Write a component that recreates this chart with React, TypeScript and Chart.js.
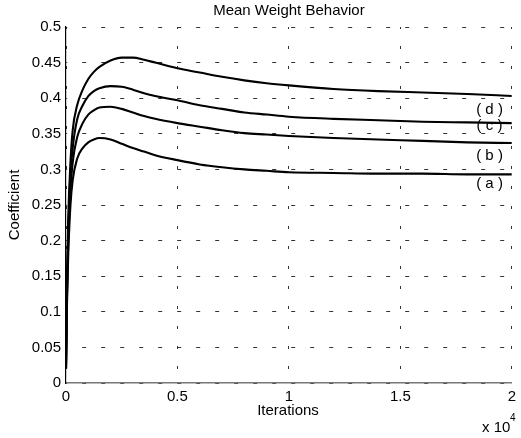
import React, { useEffect, useRef } from "react";
import { Chart, registerables } from "chart.js";

Chart.register(...registerables);

const iterations = [0, 50, 100, 200, 300, 500, 750, 1000, 1250, 1500, 2000, 2500, 3000, 3500, 4000, 5000, 6000, 7000, 8000, 9000, 10000, 12000, 14000, 16000, 18000, 20000];

const curveA = [0.02, 0.12, 0.18, 0.25, 0.285, 0.315, 0.33, 0.338, 0.342, 0.344, 0.342, 0.336, 0.33, 0.325, 0.32, 0.313, 0.307, 0.303, 0.3, 0.298, 0.296, 0.295, 0.294, 0.294, 0.293, 0.293];
const curveB = [0.02, 0.13, 0.2, 0.27, 0.31, 0.345, 0.365, 0.377, 0.383, 0.387, 0.388, 0.385, 0.38, 0.375, 0.371, 0.365, 0.36, 0.355, 0.351, 0.349, 0.347, 0.344, 0.342, 0.34, 0.338, 0.337];
const curveC = [0.02, 0.14, 0.21, 0.29, 0.33, 0.37, 0.39, 0.403, 0.41, 0.414, 0.417, 0.416, 0.412, 0.407, 0.403, 0.397, 0.39, 0.385, 0.38, 0.377, 0.374, 0.371, 0.369, 0.367, 0.366, 0.365];
const curveD = [0.02, 0.15, 0.23, 0.31, 0.355, 0.39, 0.412, 0.427, 0.437, 0.444, 0.453, 0.457, 0.457, 0.454, 0.45, 0.442, 0.436, 0.43, 0.425, 0.421, 0.418, 0.413, 0.41, 0.408, 0.406, 0.403];

const curveLabels = ["( a )", "( b )", "( c )", "( d )"];
const labelX = 19000;
const labelY = [0.279, 0.319, 0.361, 0.383];

const xTicks = [0, 5000, 10000, 15000, 20000];
const FONT = "'Liberation Sans', Arial, Helvetica, sans-serif";

const toPts = (ys: number[]) => ys.map((y, i) => ({ x: iterations[i], y }));

export default function App() {
  const ref = useRef<HTMLCanvasElement | null>(null);
  useEffect(() => {
    if (!ref.current) return;
    const curves = [curveA, curveB, curveC, curveD];
    const datasets: any[] = [];
    curves.forEach((c) => {
      datasets.push({
        data: toPts(c),
        borderColor: "#000",
        borderWidth: 2.1,
        pointRadius: 0,
        cubicInterpolationMode: "monotone",
        fill: false,
      });
      datasets.push({
        data: toPts(c),
        borderColor: "#bdbdbd",
        borderWidth: 0.7,
        pointRadius: 0,
        cubicInterpolationMode: "monotone",
        fill: false,
      });
    });

    const textPlugin = {
      id: "texts",
      afterDraw(chart: any) {
        const ctx = chart.ctx;
        const { chartArea, scales } = chart;
        ctx.save();
        ctx.fillStyle = "#000";
        ctx.font = `15px ${FONT}`;
        ctx.textAlign = "center";
        ctx.textBaseline = "middle";
        ctx.fillText("Mean Weight Behavior", (chartArea.left + chartArea.right) / 2, 11);
        ctx.fillText("Iterations", 288, 411);
        ctx.save();
        ctx.translate(15, (chartArea.top + chartArea.bottom) / 2);
        ctx.rotate(-Math.PI / 2);
        ctx.fillText("Coefficient", 0, 0);
        ctx.restore();
        ctx.textAlign = "left";
        ctx.fillText("x 10", 482, 428);
        ctx.font = `10px ${FONT}`;
        ctx.fillText("4", 510, 418);
        ctx.font = `15px ${FONT}`;
        ctx.textAlign = "center";
        curveLabels.forEach((t, i) => {
          ctx.fillText(t, scales.x.getPixelForValue(labelX), scales.y.getPixelForValue(labelY[i]));
        });
        ctx.restore();
      },
    };

    const chart = new Chart(ref.current, {
      type: "line",
      data: { datasets },
      plugins: [textPlugin],
      options: {
        animation: false,
        responsive: true,
        maintainAspectRatio: false,
        layout: { padding: { top: 27, right: 4, left: 0, bottom: 0 } },
        plugins: { legend: { display: false }, tooltip: { enabled: false }, title: { display: false } },
        scales: {
          x: {
            type: "linear",
            min: 0,
            max: 20000,
            afterBuildTicks: (s: any) => {
              s.ticks = xTicks.map((v) => ({ value: v }));
            },
            afterFit: (s: any) => {
              s.height = 55;
            },
            ticks: {
              color: "#000",
              font: { size: 15, family: FONT },
              padding: 5,
              maxRotation: 0,
              callback: (v: any) => String(Number((v / 10000).toFixed(2))),
            },
            grid: {
              color: "#333",
              lineWidth: 1,
              drawTicks: false,
              tickLength: 0,
            },
            border: { display: true, color: "#777", width: 1.5, dash: [3, 17], dashOffset: 1 },
          },
          y: {
            min: 0,
            max: 0.5,
            ticks: {
              stepSize: 0.05,
              color: "#000",
              font: { size: 15, family: FONT },
              padding: 5,
              callback: (v: any) => String(Number(Number(v).toFixed(2))),
            },
            afterFit: (s: any) => {
              s.width = 66;
            },
            grid: {
              color: "#333",
              lineWidth: 1,
              drawTicks: false,
              tickLength: 0,
            },
            border: { display: true, color: "#000", width: 1.2, dash: [4, 15], dashOffset: -16 },
          },
        },
      } as any,
    });

    return () => chart.destroy();
  }, []);

  return (
    <div style={{ position: "fixed", left: 0, top: 0, width: 521, height: 438, background: "#fff" }}>
      <canvas ref={ref} />
    </div>
  );
}
